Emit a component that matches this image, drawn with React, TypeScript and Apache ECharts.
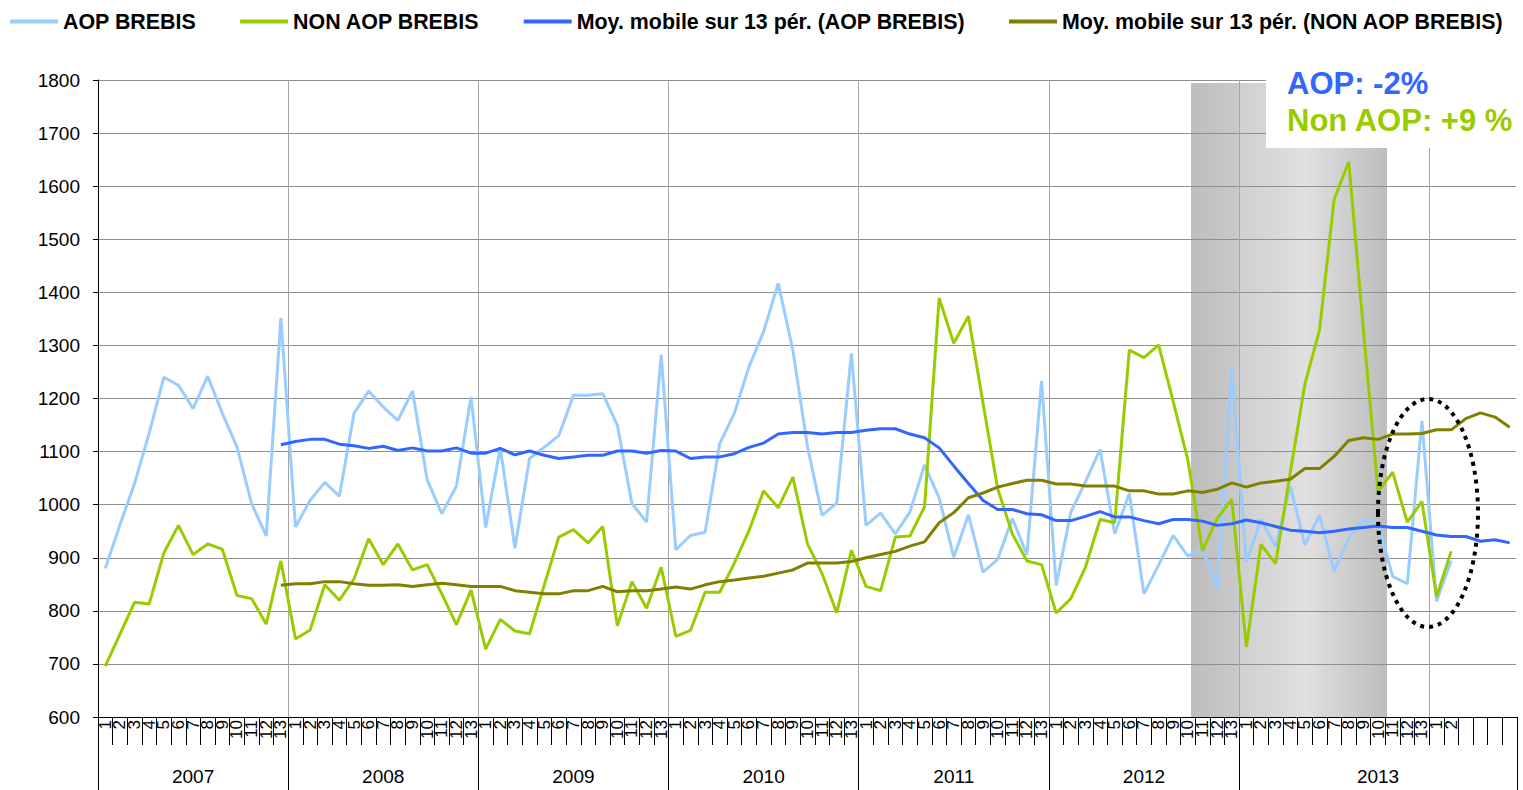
import React, { useEffect, useRef } from 'react';
import * as echarts from 'echarts';

const YEARS = ['2007', '2008', '2009', '2010', '2011', '2012', '2013'];
const PERIODS = ['1', '2', '3', '4', '5', '6', '7', '8', '9', '10', '11', '12', '13'];
const EXTRA_2013 = ['1', '2', '', '', '', ''];

const AOP = [
  880, 962, 1040, 1135, 1240, 1225, 1181, 1242, 1172, 1109, 1002, 941, 1352,
  958, 1008, 1042, 1016, 1172, 1214, 1184, 1159, 1214, 1047, 983, 1035, 1203,
  957, 1107, 918, 1087, 1108, 1130, 1206, 1206, 1209, 1150, 1002, 967, 1282,
  915, 942, 948, 1115, 1172, 1260, 1326, 1417, 1291, 1109, 980, 1003, 1285,
  961, 984, 945, 986, 1075, 1013, 901, 981, 873, 897, 974, 906, 1233,
  848, 986, 1043, 1104, 945, 1021, 832, 886, 942, 903, 917, 842, 1255,
  892, 972, 921, 1035, 924, 980, 875, 937, 972, 964, 865, 851, 1158, 818, 895,
];

const NON_AOP = [
  696, 756, 816, 813, 909, 961, 906, 926, 916, 829, 823, 775, 894,
  747, 764, 849, 820, 860, 936, 887, 926, 877, 887, 832, 774, 839,
  728, 784, 762, 757, 848, 939, 953, 928, 959, 772, 855, 805, 882,
  752, 763, 835, 835, 890, 951, 1026, 994, 1052, 926, 870, 796, 914,
  846, 838, 939, 941, 996, 1389, 1304, 1355, 1191, 1030, 945, 894, 887,
  796, 823, 882, 972, 966, 1291, 1277, 1301, 1194, 1084, 913, 974, 1010,
  732, 925, 889, 1060, 1227, 1329, 1575, 1646, 1330, 1025, 1061, 967, 1006, 827, 912,
];

// moving averages start at the 13th period (index 12)
const MA_AOP_VALUES = [
  1113, 1119, 1123, 1123, 1114, 1111, 1106, 1110, 1102, 1107, 1101, 1101, 1107, 1097,
  1097, 1106, 1094, 1101, 1093, 1087, 1090, 1093, 1093, 1101, 1101, 1097, 1102,
  1101, 1087, 1090, 1090, 1096, 1108, 1116, 1133, 1136, 1136, 1133, 1136, 1136,
  1140, 1143, 1143, 1133, 1126, 1107, 1073, 1040, 1008, 991, 991, 983, 981,
  970, 970, 978, 987, 977, 977, 970, 964, 972, 972, 969, 961, 964,
  971, 966, 959, 952, 950, 947, 950, 954, 957, 960, 957, 957, 950, 943, 940, 940, 931, 934, 928,
];

const MA_NON_AOP_VALUES = [
  848, 851, 851, 855, 855, 851, 848, 848, 849, 846, 849, 852, 849, 846,
  846, 846, 838, 835, 832, 832, 838, 838, 846, 836, 838, 838, 841,
  845, 841, 849, 855, 858, 862, 865, 871, 877, 890, 890, 890, 893,
  900, 906, 912, 922, 930, 966, 985, 1013, 1022, 1033, 1040, 1046, 1046,
  1039, 1039, 1035, 1035, 1035, 1026, 1026, 1020, 1020, 1026, 1023, 1029, 1041,
  1033, 1041, 1044, 1048, 1068, 1068, 1091, 1121, 1126, 1123, 1133, 1133, 1134, 1141, 1141, 1162, 1173, 1165, 1146,
];

const MA_START = 12;

const SERIES_NAMES = [
  'AOP BREBIS',
  'NON AOP BREBIS',
  'Moy. mobile sur 13 pér. (AOP BREBIS)',
  'Moy. mobile sur 13 pér. (NON AOP BREBIS)',
];

const NOTE_AOP = 'AOP: -2%';
const NOTE_NON_AOP = 'Non AOP: +9 %';

function buildCategories() {
  const periods: string[] = [];
  const years: string[] = [];
  YEARS.forEach((y, yi) => {
    const group = yi === YEARS.length - 1 ? PERIODS.concat(EXTRA_2013) : PERIODS.slice();
    const mid = Math.floor(group.length / 2);
    group.forEach((p, pi) => {
      periods.push(p);
      years.push(pi === mid ? y : '');
    });
  });
  return { periods, years };
}

export default function App() {
  const ref = useRef<HTMLDivElement>(null);

  useEffect(() => {
    if (!ref.current) return;
    const chart = echarts.init(ref.current, undefined, { renderer: 'svg' });
    const { periods, years } = buildCategories();
    const n = periods.length;
    const pad = (arr: number[], start: number) => {
      const out: (number | null)[] = new Array(n).fill(null);
      arr.forEach((v, i) => (out[start + i] = v));
      return out;
    };
    const yearStarts = new Set<number>();
    let acc = 0;
    YEARS.forEach((y, yi) => {
      yearStarts.add(acc);
      acc += yi === YEARS.length - 1 ? PERIODS.length + EXTRA_2013.length : PERIODS.length;
    });

    const font = 'Liberation Sans, Arial, sans-serif';

    chart.setOption({
      animation: false,
      backgroundColor: '#ffffff',
      textStyle: { fontFamily: font },
      legend: {
        left: 5,
        top: 6,
        width: 1515,
        icon: 'rect',
        itemWidth: 48,
        itemHeight: 4,
        itemGap: 44,
        textStyle: { fontSize: 21.4, fontWeight: 'bold', color: '#000', fontFamily: font },
        data: SERIES_NAMES,
      },
      grid: {
        left: 98,
        right: 6,
        top: 80,
        bottom: 73,
        containLabel: false,
        outerBoundsMode: 'none',
      },
      xAxis: [
        {
          type: 'category',
          data: periods,
          position: 'bottom',
          boundaryGap: true,
          axisLine: { show: true, lineStyle: { color: '#000', width: 1 } },
          axisTick: { show: true, interval: 0, length: 28, lineStyle: { color: '#000', width: 1 } },
          axisLabel: {
            interval: 0,
            rotate: 90,
            fontSize: 17,
            color: '#000',
            margin: 3,
            fontFamily: font,
          },
          splitLine: {
            show: true,
            interval: (i: number) => i % 13 === 0 && i > 0,
            lineStyle: { color: '#a6a6a6', width: 1 },
          },
        },
        {
          type: 'category',
          data: years,
          position: 'bottom',
          boundaryGap: true,
          axisLine: { show: false },
          axisTick: {
            show: true,
            interval: (i: number) => yearStarts.has(i),
            length: 73,
            lineStyle: { color: '#000', width: 1 },
          },
          axisLabel: { interval: 0, fontSize: 19, color: '#000', margin: 50, fontFamily: font },
          splitLine: { show: false },
        },
      ],
      yAxis: {
        type: 'value',
        min: 600,
        max: 1800,
        interval: 100,
        axisLine: { show: true, lineStyle: { color: '#000', width: 1 } },
        axisTick: { show: true, length: 5, lineStyle: { color: '#000' } },
        axisLabel: {
          fontSize: 19,
          color: '#000',
          margin: 18,
          fontFamily: font,
          formatter: (v: number) => String(v),
        },
        splitLine: { show: true, lineStyle: { color: '#8f8f8f', width: 1 } },
      },
      series: [
        {
          name: SERIES_NAMES[0],
          type: 'line',
          data: AOP,
          symbol: 'none',
          color: '#99CCFF',
          lineStyle: { color: '#99CCFF', width: 3 },
        },
        {
          name: SERIES_NAMES[1],
          type: 'line',
          data: NON_AOP,
          symbol: 'none',
          color: '#99CC00',
          lineStyle: { color: '#99CC00', width: 3 },
        },
        {
          name: SERIES_NAMES[2],
          type: 'line',
          data: pad(MA_AOP_VALUES, MA_START),
          symbol: 'none',
          color: '#3366FF',
          lineStyle: { color: '#3366FF', width: 3 },
        },
        {
          name: SERIES_NAMES[3],
          type: 'line',
          data: pad(MA_NON_AOP_VALUES, MA_START),
          symbol: 'none',
          color: '#808000',
          lineStyle: { color: '#808000', width: 3 },
        },
      ],
      graphic: [
        {
          type: 'rect',
          z: -10,
          silent: true,
          shape: { x: 1191, y: 83, width: 47, height: 634 },
          style: {
            fill: new echarts.graphic.LinearGradient(0, 0, 1, 0, [
              { offset: 0, color: '#bdbdbd' },
              { offset: 1, color: '#c9c9c9' },
            ]),
          },
        },
        {
          type: 'rect',
          z: -10,
          silent: true,
          shape: { x: 1238, y: 83, width: 149, height: 634 },
          style: {
            fill: new echarts.graphic.LinearGradient(0, 0, 1, 0, [
              { offset: 0, color: '#cfcfcf' },
              { offset: 0.45, color: '#e0e0e0' },
              { offset: 1, color: '#bdbdbd' },
            ]),
          },
        },
        {
          type: 'line',
          z: 5,
          silent: true,
          shape: { x1: 1517, y1: 80, x2: 1517, y2: 716.5 },
          style: { stroke: '#ffffff', lineWidth: 2 },
        },
        {
          type: 'rect',
          z: 50,
          silent: true,
          shape: { x: 1266, y: 50, width: 257, height: 98 },
          style: { fill: '#ffffff' },
        },
        {
          type: 'text',
          z: 51,
          x: 1287,
          y: 83.5,
          style: {
            text: NOTE_AOP,
            fill: '#3366FF',
            font: `bold 31px ${font}`,
            verticalAlign: 'middle',
          },
        },
        {
          type: 'text',
          z: 51,
          x: 1287,
          y: 120.5,
          style: {
            text: NOTE_NON_AOP,
            fill: '#99CC00',
            font: `bold 31px ${font}`,
            verticalAlign: 'middle',
          },
        },
        {
          type: 'ellipse',
          z: 60,
          silent: true,
          shape: { cx: 1428, cy: 513, rx: 50, ry: 114 },
          style: { fill: 'none', stroke: '#000', lineWidth: 4, lineDash: [4, 5] },
        },
      ],
    });

    return () => chart.dispose();
  }, []);

  return (
    <div
      ref={ref}
      style={{ position: 'absolute', left: 0, top: 0, width: 1523, height: 790 }}
    />
  );
}
